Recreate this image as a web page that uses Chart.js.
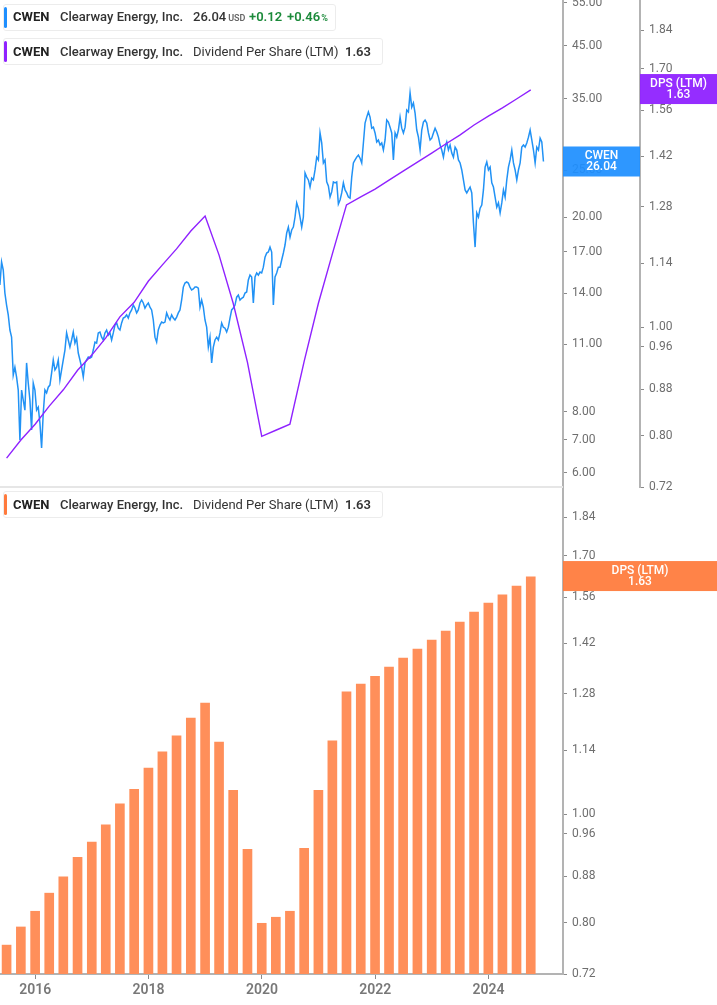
<!DOCTYPE html>
<html>
<head>
<meta charset="utf-8">
<script src="https://cdn.jsdelivr.net/npm/chart.js@4.4.1/dist/chart.umd.min.js"></script>
<style>
  body { margin: 0; background: #fff; font-family: Roboto, "Noto Sans", sans-serif; }
  #wrap { position: relative; width: 717px; height: 1005px; overflow: hidden; }
  #top { position: absolute; left: 0; top: 0; width: 717px; height: 500px; }
  #bot { position: absolute; left: 0; top: 488px; width: 717px; height: 517px; }
  .sep { position: absolute; left: 0; top: 486px; width: 563px; height: 2px; background: #e6e6e6; }
  .leg { position: absolute; left: 3px; height: 25px; border: 1px solid #ececec; border-radius: 3px; background: rgba(255,255,255,0.92); }
  .mk { position: absolute; left: 4px; width: 3px; height: 21px; border-radius: 2px; }
  .t { position: absolute; font-size: 13px; line-height: 15px; color: #333; white-space: nowrap; }
  .b { font-weight: 700; color: #222; }
  .m { font-weight: 500; }
  .s { font-size: 9px; font-weight: 600; color: #666; margin-left: 2px; }
  .g { color: #1b8a3a; font-weight: 600; }
  .g small { font-size: 9px; margin-left: 1px; }
</style>
</head>
<body>
<div id="wrap">
  <div id="top"><canvas id="topChart"></canvas></div>
  <div id="bot"><canvas id="botChart"></canvas></div>
  <div class="sep"></div>

  <div class="leg" style="top:4px;width:331px;"></div>
  <div class="mk" style="top:7px;background:#1e8fff;"></div>
  <span class="t b" style="left:13px;top:9px;">CWEN</span>
  <span class="t m" style="left:60px;top:9px;">Clearway Energy, Inc.</span>
  <span class="t m" style="left:193px;top:9px;">26.04<span class="s">USD</span></span>
  <span class="t g" style="left:249px;top:9px;">+0.12</span>
  <span class="t g" style="left:287px;top:9px;">+0.46<small>%</small></span>

  <div class="leg" style="top:38px;width:378px;"></div>
  <div class="mk" style="top:41px;background:#8f22ff;"></div>
  <span class="t b" style="left:13px;top:44px;">CWEN</span>
  <span class="t m" style="left:60px;top:44px;">Clearway Energy, Inc.</span>
  <span class="t" style="left:193px;top:44px;">Dividend Per Share (LTM)</span>
  <span class="t" style="left:345px;top:44px;font-weight:600;">1.63</span>

  <div class="leg" style="top:491px;width:378px;"></div>
  <div class="mk" style="top:494px;background:#ff7a3d;"></div>
  <span class="t b" style="left:13px;top:497px;">CWEN</span>
  <span class="t m" style="left:60px;top:497px;">Clearway Energy, Inc.</span>
  <span class="t" style="left:193px;top:497px;">Dividend Per Share (LTM)</span>
  <span class="t" style="left:345px;top:497px;font-weight:600;">1.63</span>
</div>

<script>
"use strict";

// quarter-end dates for dividend per share (LTM)
const dpsDates = [
  "2015-06-30", "2015-09-30", "2015-12-31",
  "2016-03-31", "2016-06-30", "2016-09-30", "2016-12-31",
  "2017-03-31", "2017-06-30", "2017-09-30", "2017-12-31",
  "2018-03-31", "2018-06-30", "2018-09-30", "2018-12-31",
  "2019-03-31", "2019-06-30", "2019-09-30", "2019-12-31",
  "2020-03-31", "2020-06-30", "2020-09-30", "2020-12-31",
  "2021-03-31", "2021-06-30", "2021-09-30", "2021-12-31",
  "2022-03-31", "2022-06-30", "2022-09-30", "2022-12-31",
  "2023-03-31", "2023-06-30", "2023-09-30", "2023-12-31",
  "2024-03-31", "2024-06-30", "2024-09-30"
];
const dpsValues = [
  0.764, 0.793, 0.819,
  0.850, 0.879, 0.915, 0.944,
  0.978, 1.021, 1.052, 1.099,
  1.136, 1.174, 1.218, 1.256,
  1.159, 1.050, 0.930, 0.799,
  0.809, 0.819, 0.932, 1.050,
  1.162, 1.285, 1.306, 1.327,
  1.352, 1.377, 1.403, 1.429,
  1.456, 1.483, 1.514, 1.542,
  1.568, 1.597, 1.627
];

// closing price, sampled about every 10.75 days from the start date
const priceStartDate = "2015-05-18";
const priceStepDays = 10.75;
const prices = [
  14.54, 16.21, 15.61, 14.00, 13.23, 12.63, 11.76, 11.37, 9.51, 9.87,
  9.42, 8.86, 7.00, 8.86, 8.45, 8.06, 10.07, 9.16, 8.45, 7.34,
  9.16, 8.86, 8.06, 8.17, 7.58, 6.74, 7.95, 8.86, 8.74, 8.98,
  9.07, 9.60, 10.21, 9.74, 9.87, 10.21, 9.29, 9.74, 10.21, 10.70,
  11.60, 11.22, 10.85, 11.22, 11.65, 11.06, 11.32, 10.55, 10.21, 9.87,
  9.42, 10.07, 10.21, 10.35, 10.30, 10.35, 10.70, 11.11, 11.06, 11.60,
  11.65, 11.37, 11.22, 11.60, 11.76, 11.48, 11.60, 11.22, 11.60, 12.04,
  12.16, 11.86, 11.76, 12.16, 12.44, 12.50, 12.63, 12.44, 12.75, 12.93,
  13.23, 13.04, 12.75, 12.93, 13.36, 13.55, 13.36, 13.04, 13.23, 13.36,
  13.10, 12.93, 12.33, 11.37, 11.11, 11.76, 12.04, 12.21, 12.16, 12.21,
  12.75, 12.50, 12.33, 12.63, 12.44, 12.33, 12.50, 12.75, 12.93, 13.55,
  14.40, 14.68, 14.75, 14.68, 14.40, 14.20, 14.27, 14.40, 14.40, 14.33,
  13.10, 13.55, 13.10, 12.33, 11.92, 10.85, 11.37, 10.07, 10.85, 11.22,
  11.37, 11.22, 11.60, 12.16, 11.92, 11.86, 11.65, 11.92, 12.44, 12.93,
  13.04, 13.23, 13.73, 13.87, 13.55, 13.66, 13.73, 14.00, 14.07, 14.89,
  15.24, 15.10, 13.36, 15.10, 15.39, 15.24, 15.46, 15.39, 15.82, 16.58,
  16.91, 16.99, 17.39, 16.99, 13.23, 15.10, 15.39, 15.82, 15.82, 16.36,
  16.91, 17.56, 18.59, 19.11, 18.23, 18.85, 19.11, 20.04, 21.42, 20.89,
  20.04, 19.11, 20.04, 24.67, 24.19, 23.87, 23.08, 24.07, 23.87, 25.02,
  26.58, 26.23, 29.79, 28.42, 25.86, 26.23, 23.65, 23.20, 22.02, 22.56,
  23.65, 23.54, 23.65, 21.31, 21.72, 22.45, 23.54, 22.77, 22.45, 22.02,
  21.90, 24.19, 25.86, 26.23, 26.58, 26.84, 26.45, 25.86, 28.42, 31.22,
  32.10, 32.89, 32.10, 30.47, 30.62, 29.79, 28.55, 28.82, 28.14, 28.42,
  27.49, 28.82, 31.67, 31.37, 30.62, 29.79, 26.23, 29.79, 29.21, 30.21,
  32.10, 30.47, 29.79, 30.62, 33.20, 32.89, 35.98, 33.65, 34.31, 32.73,
  30.21, 29.21, 27.49, 30.21, 31.37, 31.67, 31.22, 29.79, 28.82, 29.06,
  29.79, 30.47, 29.93, 29.21, 28.14, 27.49, 26.58, 27.87, 28.55, 27.49,
  28.14, 27.10, 26.58, 27.87, 27.49, 26.23, 25.86, 25.02, 23.87, 22.77,
  22.45, 22.77, 23.08, 22.45, 19.48, 17.39, 20.43, 20.04, 20.89, 21.21,
  22.77, 25.36, 25.98, 25.02, 25.36, 23.54, 23.08, 22.02, 21.00, 21.42,
  20.43, 21.42, 22.77, 22.02, 23.87, 25.36, 26.23, 27.49, 25.86, 25.02,
  23.87, 25.02, 25.86, 27.87, 28.14, 27.87, 28.42, 29.21, 30.21, 28.82,
  27.49, 25.86, 27.87, 27.49, 29.06, 28.55, 26.04
];

// tick labels
const yearTicks = [2016, 2018, 2020, 2022, 2024];
const priceTicks = [6, 7, 8, 11, 14, 17, 20, 25, 35, 45, 55];
const dpsTicks = [0.72, 0.80, 0.88, 0.96, 1.00, 1.14, 1.28, 1.42, 1.56, 1.70, 1.84];

const lastPrice = 26.04;
const lastDps = 1.63;

// colors
const blue = "#2192f5";
const purple = "#8f22ff";
const orange = "#ff8f5a";
const axisColor = "#b3b3b3";
const tickText = "#6e6e6e";

// decimal year from "YYYY-MM-DD"
function toYear(s) {
  const d = new Date(s + "T00:00:00Z");
  const y = d.getUTCFullYear();
  const a = Date.UTC(y, 0, 1);
  const b = Date.UTC(y + 1, 0, 1);
  return y + (d.getTime() - a) / (b - a);
}

const priceStart = toYear(priceStartDate);
const pricePoints = prices.map((p, i) => ({ x: priceStart + (i * priceStepDays) / 365.25, y: p }));
const dpsPoints = dpsValues.map((v, i) => ({ x: toYear(dpsDates[i]), y: v }));

const xMin = 2015.377;
const xMax = 2025.315;

const tickFont = { family: "Roboto, 'Noto Sans', sans-serif", size: 12 };

function fixedAxis(width) {
  return function (scale) {
    scale.width = width;
    scale.paddingTop = 0;
    scale.paddingBottom = 0;
  };
}

function setTicks(list) {
  return function (scale) {
    scale.ticks = list.map((v) => ({ value: v }));
  };
}

function yAxis(min, max, ticks, width, weight) {
  return {
    type: "logarithmic",
    position: "right",
    bounds: "data",
    weight: weight,
    min: min,
    max: max,
    afterBuildTicks: setTicks(ticks),
    afterFit: fixedAxis(width),
    border: { color: axisColor, width: 2 },
    grid: { drawOnChartArea: false, tickLength: 4, tickColor: "#8a8a8a", tickWidth: 1 },
    ticks: {
      autoSkip: false,
      padding: 5,
      color: tickText,
      font: tickFont,
      callback: (v) => Number(v).toFixed(2),
    },
  };
}

// draws a last-value tag on an axis
function tag(ctx, x, w, yc, color, lines) {
  ctx.save();
  ctx.fillStyle = color;
  ctx.fillRect(x, yc - 15, w, 30);
  ctx.fillStyle = "#fff";
  ctx.font = "500 12px Roboto, 'Noto Sans', sans-serif";
  ctx.textAlign = "center";
  ctx.textBaseline = "middle";
  ctx.fillText(lines[0], x + w / 2, yc - 5.5);
  ctx.fillText(lines[1], x + w / 2, yc + 5.5);
  ctx.restore();
}

const tagPlugin = {
  id: "tags",
  afterDraw(chart, args, opts) {
    const ctx = chart.ctx;
    opts.items.forEach((it) => {
      const scale = chart.scales[it.axis];
      const yc = scale.getPixelForValue(it.value);
      tag(ctx, scale.left, scale.width, yc, it.color, [it.label, it.value.toFixed(2)]);
    });
  },
};

Chart.register(tagPlugin);

// top chart: price + DPS line
new Chart(document.getElementById("topChart"), {
  type: "line",
  data: {
    datasets: [
      {
        label: "Dividend Per Share (LTM)",
        data: dpsPoints,
        yAxisID: "yDps",
        borderColor: purple,
        borderWidth: 1.4,
        pointRadius: 0,
        tension: 0,
      },
      {
        label: "CWEN",
        data: pricePoints,
        yAxisID: "yPrice",
        borderColor: blue,
        borderWidth: 1.5,
        pointRadius: 0,
        tension: 0,
      },
    ],
  },
  options: {
    responsive: true,
    maintainAspectRatio: false,
    animation: false,
    layout: { padding: { top: 0, left: 0, right: 0, bottom: 13 } },
    plugins: {
      legend: { display: false },
      tooltip: { enabled: false },
      tags: {
        items: [
          { axis: "yPrice", value: lastPrice, label: "CWEN", color: "rgba(30,143,255,0.93)" },
          { axis: "yDps", value: lastDps, label: "DPS (LTM)", color: "rgba(143,34,255,0.95)" },
        ],
      },
    },
    scales: {
      x: { type: "linear", display: false, offset: false, min: xMin, max: xMax },
      yPrice: yAxis(5.608, 55.78, priceTicks, 77, 0),
      yDps: yAxis(0.72, 1.957, dpsTicks, 77, 1),
    },
  },
});

// bottom chart: DPS bars
new Chart(document.getElementById("botChart"), {
  type: "bar",
  data: {
    datasets: [
      {
        label: "Dividend Per Share (LTM)",
        data: dpsPoints,
        yAxisID: "y",
        backgroundColor: orange,
        borderWidth: 0,
        barThickness: 9,
      },
    ],
  },
  options: {
    responsive: true,
    maintainAspectRatio: false,
    animation: false,
    layout: { padding: 0 },
    plugins: {
      legend: { display: false },
      tooltip: { enabled: false },
      tags: {
        items: [{ axis: "y", value: lastDps, label: "DPS (LTM)", color: "rgba(255,122,58,0.93)" }],
      },
    },
    scales: {
      x: {
        type: "linear",
        offset: false,
        bounds: "data",
        min: xMin,
        max: xMax,
        afterBuildTicks: setTicks(yearTicks),
        afterFit: (s) => { s.height = 31; },
        border: { color: axisColor, width: 2 },
        grid: { offset: false, drawOnChartArea: false, tickLength: 5, tickColor: "#8a8a8a", tickWidth: 1 },
        ticks: {
          autoSkip: false,
          maxRotation: 0,
          padding: 3,
          color: "#787878",
          font: { family: "Roboto, 'Noto Sans', sans-serif", size: 14, weight: "600" },
          callback: (v) => String(v),
        },
      },
      y: yAxis(0.72, 1.953, dpsTicks, 154, 0),
    },
  },
});
</script>
</body>
</html>
